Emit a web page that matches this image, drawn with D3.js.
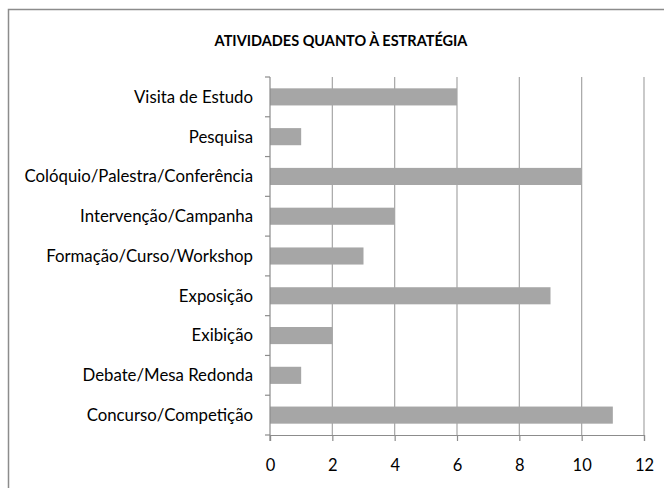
<!DOCTYPE html>
<html>
<head>
<meta charset="utf-8">
<script src="https://cdn.jsdelivr.net/npm/d3@7"></script>
<style>
  body { margin: 0; background: #fff; }
  svg text { font-family: Lato, "Open Sans", sans-serif; fill: #000; }
</style>
</head>
<body>
<div id="chart"></div>
<script>
// chart data, top to bottom
var categories = ["Visita de Estudo", "Pesquisa", "Colóquio/Palestra/Conferência",
    "Intervenção/Campanha", "Formação/Curso/Workshop", "Exposição", "Exibição",
    "Debate/Mesa Redonda", "Concurso/Competição"];
var values = [6, 1, 10, 4, 3, 9, 2, 1, 11];
var xTicks = [0, 2, 4, 6, 8, 10, 12];
var title = "ATIVIDADES QUANTO À ESTRATÉGIA";

var svg = d3.select("#chart").append("svg")
    .attr("width", 664)
    .attr("height", 488);

// outer chart frame (cropped on right and bottom)
svg.append("rect")
    .attr("x", 8.5).attr("y", 9.5)
    .attr("width", 700).attr("height", 520)
    .attr("fill", "none")
    .attr("stroke", "#8c8c8c")
    .attr("stroke-width", 1.5);

svg.append("text")
    .attr("x", 341).attr("y", 46)
    .attr("text-anchor", "middle")
    .attr("font-size", "14.5px")
    .attr("font-weight", "bold")
    .text(title);

var margin = {top: 77, left: 270};
var width = 374, height = 358;

var g = svg.append("g")
    .attr("transform", "translate(" + margin.left + "," + margin.top + ")");

var x = d3.scaleLinear().domain([0, 12]).range([0, width]);
var y = d3.scaleBand().domain(categories).range([0, height]).paddingInner(0.57).paddingOuter(0.285);

// vertical gridlines
g.append("g")
    .selectAll("line")
    .data(xTicks.slice(1))
    .enter().append("line")
    .attr("x1", function (d) { return x(d); })
    .attr("x2", function (d) { return x(d); })
    .attr("y1", 0).attr("y2", height)
    .attr("stroke", "#a6a6a6")
    .attr("stroke-width", 1.2);

// bars
g.selectAll(".bar")
    .data(values)
    .enter().append("rect")
    .attr("class", "bar")
    .attr("x", 0)
    .attr("y", function (d, i) { return y(categories[i]); })
    .attr("width", function (d) { return x(d); })
    .attr("height", y.bandwidth())
    .attr("fill", "#a6a6a6");

// X axis
var xAxis = g.append("g")
    .attr("transform", "translate(0," + height + ")")
    .call(d3.axisBottom(x).tickValues(xTicks).tickSize(6).tickPadding(18).tickFormat(d3.format("d")));
xAxis.select(".domain").attr("stroke", "#8c8c8c").attr("stroke-width", 1.2);
xAxis.selectAll(".tick line").attr("stroke", "#8c8c8c").attr("stroke-width", 1.2);
xAxis.selectAll("text").attr("font-size", "16.5px");

// Y axis: ticks at band boundaries
var bounds = d3.range(categories.length + 1).map(function (i) { return i * height / categories.length; });
g.append("line")
    .attr("x1", 0).attr("x2", 0).attr("y1", 0).attr("y2", height + 6)
    .attr("stroke", "#8c8c8c").attr("stroke-width", 1.2);
g.append("g").selectAll("line")
    .data(bounds)
    .enter().append("line")
    .attr("x1", -5).attr("x2", 0)
    .attr("y1", function (d) { return d; })
    .attr("y2", function (d) { return d; })
    .attr("stroke", "#8c8c8c").attr("stroke-width", 1.2);

g.append("g").selectAll("text")
    .data(categories)
    .enter().append("text")
    .attr("x", -17)
    .attr("y", function (d) { return y(d) + y.bandwidth() / 2; })
    .attr("dy", "0.35em")
    .attr("text-anchor", "end")
    .attr("font-size", "16.8px")
    .text(function (d) { return d; });
</script>
</body>
</html>
